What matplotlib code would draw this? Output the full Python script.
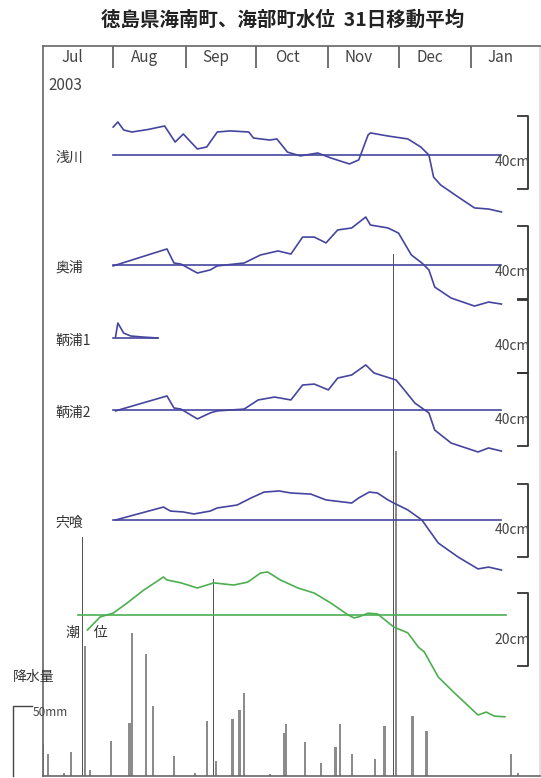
import numpy as np
import matplotlib.pyplot as plt

plt.rcParams['font.family'] = ['Noto Sans CJK JP', 'DejaVu Sans']

# x axis: days since 1 Jul 2003
months = ['Jul', 'Aug', 'Sep', 'Oct', 'Nov', 'Dec', 'Jan']
month_start = [0, 31, 62, 92, 123, 153, 184]

# 31-day moving average of water level, cm from each station's reference line
asakawa_day = [31, 33, 35.5, 39, 46, 53, 55.5, 57.5, 61, 67, 71, 75.5, 81, 89, 91, 98, 101,
               105.5, 111, 118.5, 124, 132, 136, 140, 141, 148.5, 157, 162.5, 166, 168, 171,
               178.5, 185.5, 191.5, 197]
asakawa_cm = [15.3, 18.1, 13.7, 12.6, 14.0, 15.9, 11.0, 7.1, 11.5, 3.3, 4.4, 12.6, 13.2, 12.6,
              9.3, 8.2, 8.8, 1.6, -0.5, 1.1, -1.6, -4.9, -2.7, 11.0, 12.1, 10.4, 8.8, 4.4, 0.0,
              -12.1, -16.4, -23.0, -29.0, -29.6, -31.2]

okuura_day = [31, 54, 57, 60, 67, 72.5, 75.5, 87, 94, 101.5, 107, 112, 117, 122, 127, 133, 139,
              141, 148.5, 153, 158.5, 163, 166, 168.5, 175.5, 185.5, 191.5, 197]
okuura_cm = [-0.5, 8.8, 1.1, 0.5, -4.4, -2.7, -0.5, 1.1, 5.5, 7.7, 6.0, 15.3, 15.3, 12.1, 19.2,
             20.3, 26.3, 21.9, 20.3, 17.5, 5.5, 1.1, -2.7, -12.1, -18.1, -22.5, -20.3, -21.4]

tomoura1_day = [32, 33, 35.5, 38.5, 44, 50]
tomoura1_cm = [0.5, 8.2, 2.7, 1.1, 0.5, 0.0]

tomoura2_day = [32, 54, 57, 60, 67, 72.5, 75.5, 87, 93, 100, 107, 112, 117, 123, 127, 133, 139,
                142.5, 152, 155.5, 160, 166, 168.5, 175.5, 187, 191.5, 197]
tomoura2_cm = [-0.5, 7.7, 1.1, 0.5, -4.9, -1.6, -0.5, 0.5, 5.5, 7.1, 5.5, 13.7, 14.2, 11.0, 17.5,
               19.2, 24.7, 20.3, 16.4, 11.0, 3.8, -1.6, -11.0, -18.1, -23.0, -20.8, -22.5]

shishikui_day = [32, 52.5, 55.5, 61, 65.5, 72.5, 75.5, 84, 90, 95.5, 102, 107, 115.5, 122, 133,
                 136, 140.5, 144, 148.5, 151, 157, 163, 170, 178.5, 187, 191.5, 197]
shishikui_cm = [0.0, 7.1, 4.9, 4.4, 3.3, 4.9, 6.6, 8.2, 12.1, 15.3, 15.9, 14.8, 14.2, 11.0, 9.3,
                12.1, 15.3, 14.8, 11.0, 9.3, 5.5, 0.0, -12.6, -20.3, -26.8, -25.8, -27.4]

tide_day = [20, 25.5, 31, 37, 44, 52.5, 54, 60, 67, 74, 82.5, 88.5, 94, 97, 102.5, 110, 117, 124,
            131.5, 134, 136, 140, 144, 151, 157, 161.5, 164, 170, 177, 187, 190.5, 194, 198.5]
tide_cm = [-4.1, -0.5, 0.5, 3.3, 6.8, 10.4, 9.6, 8.8, 7.4, 8.8, 8.2, 9.0, 11.5, 11.8, 9.6, 7.4,
           6.0, 3.3, 0.0, -0.8, -0.5, 0.5, 0.3, -3.3, -4.9, -8.8, -10.1, -17.0, -21.4, -27.4,
           -26.6, -27.7, -27.9]

# daily rainfall, mm
rain_day = [1, 3, 10, 13, 19, 21, 30, 38, 39, 45, 48, 57, 66, 71, 75, 82, 85, 87, 98, 104, 105,
            113, 120, 126, 128, 133, 143, 147, 152, 159, 165, 201, 204]
rain_mm = [23, 16, 2, 17, 93, 4, 25, 38, 102, 87, 50, 14, 2, 39, 11, 41, 47, 59, 1.5, 31, 37,
           24, 9, 21, 37, 16, 12, 36, 232, 43, 32, 16, 2]
peak_day = [18, 74, 151]
peak_mm = [171, 141, 373]

# layout (vertical units = pixels above the bottom frame)
BLUE_SCALE = 73 / 40
TIDE_SCALE = 73 / 20
RAIN_SCALE = 1.4
BLUE = '#4545a0'
GREEN = '#4caf50'
TXT = '#333333'

stations = [
    ('浅川', asakawa_day, asakawa_cm, 621, 623.5, (31, 197)),
    ('奥浦', okuura_day, okuura_cm, 511, 513.5, (31, 197)),
    ('鞆浦1', tomoura1_day, tomoura1_cm, 438, 440, (31, 50)),
    ('鞆浦2', tomoura2_day, tomoura2_cm, 366, 366.5, (31, 197)),
    ('宍喰', shishikui_day, shishikui_cm, 256, 256, (31, 197)),
]

fig = plt.figure(figsize=(5.41, 7.78), dpi=100)
ax = fig.add_axes([43 / 541, 2 / 778, 497 / 541, 730 / 778])
ax.set_xlim(1, 213.5)
ax.set_ylim(0, 730)
ax.set_yticks([])
for s in ax.spines.values():
    s.set_color('#666666')
    s.set_linewidth(1.2)
ax.spines['right'].set_color('#dddddd')

# month dividers as inward ticks on the top frame
ax.xaxis.tick_top()
ax.set_xticks(month_start[1:])
ax.tick_params(axis='x', direction='in', length=16, width=1.3, color='#666666',
               labeltop=False, labelbottom=False)
bounds = month_start + [213.5]
for i, m in enumerate(months):
    mid = (bounds[i] + bounds[i + 1]) / 2 - 2
    ax.text(mid, 719, m, ha='center', va='center', fontsize=11, color='#444444')
ax.text(3.5, 690, '2003', ha='left', va='center', fontsize=11, color='#444444')


def bracket(center, label):
    h = 36.5
    ax.plot([204, 208.3, 208.3, 204], [center + h, center + h, center - h, center - h],
            color='#333333', lw=1.3, clip_on=False)
    ax.text(194, center - 10, label, ha='left', va='center', fontsize=10, color='#444444')


# rainfall
ax.bar(rain_day, np.array(rain_mm) * RAIN_SCALE, width=1.0, color='#8c8c8c', zorder=1)
ax.bar(peak_day, np.array(peak_mm) * RAIN_SCALE, width=0.45, color='#555555', zorder=1)

for name, days, cm, base, bc, (x0, x1) in stations:
    ax.plot([x0, x1], [base, base], color=BLUE, lw=1.2, zorder=2)
    ax.plot(days, base + np.array(cm) * BLUE_SCALE, color=BLUE, lw=1.2, zorder=3)
    ax.text(6.5, base - 3, name, ha='left', va='center', fontsize=10, color=TXT)
    bracket(bc, '40cm')

# tide
tide_base = 161
ax.plot([16, 199], [tide_base, tide_base], color=GREEN, lw=1.2, zorder=2)
ax.plot(tide_day, tide_base + np.array(tide_cm) * TIDE_SCALE, color=GREEN, lw=1.2, zorder=3)
ax.text(11, tide_base - 18, '潮\u3000位', ha='left', va='center', fontsize=10, color=TXT)
bracket(146.5, '20cm')

# rainfall scale bar
ax.plot([-3.6, -11.8, -11.8], [50 * RAIN_SCALE, 50 * RAIN_SCALE, 0], color='#444444',
        lw=1.0, clip_on=False)
fig.text(13 / 541, 1 - 677 / 778, '降水量', ha='left', va='center', fontsize=10, color=TXT)
fig.text(33 / 541, 1 - 713 / 778, '50mm', ha='left', va='center', fontsize=8.5, color='#444444')

fig.text(283 / 541, 1 - 20 / 778, '徳島県海南町、海部町水位  31日移動平均', ha='center',
         va='center', fontsize=14, fontweight='bold', color='#222222')

fig.savefig('out.png', dpi=100)
